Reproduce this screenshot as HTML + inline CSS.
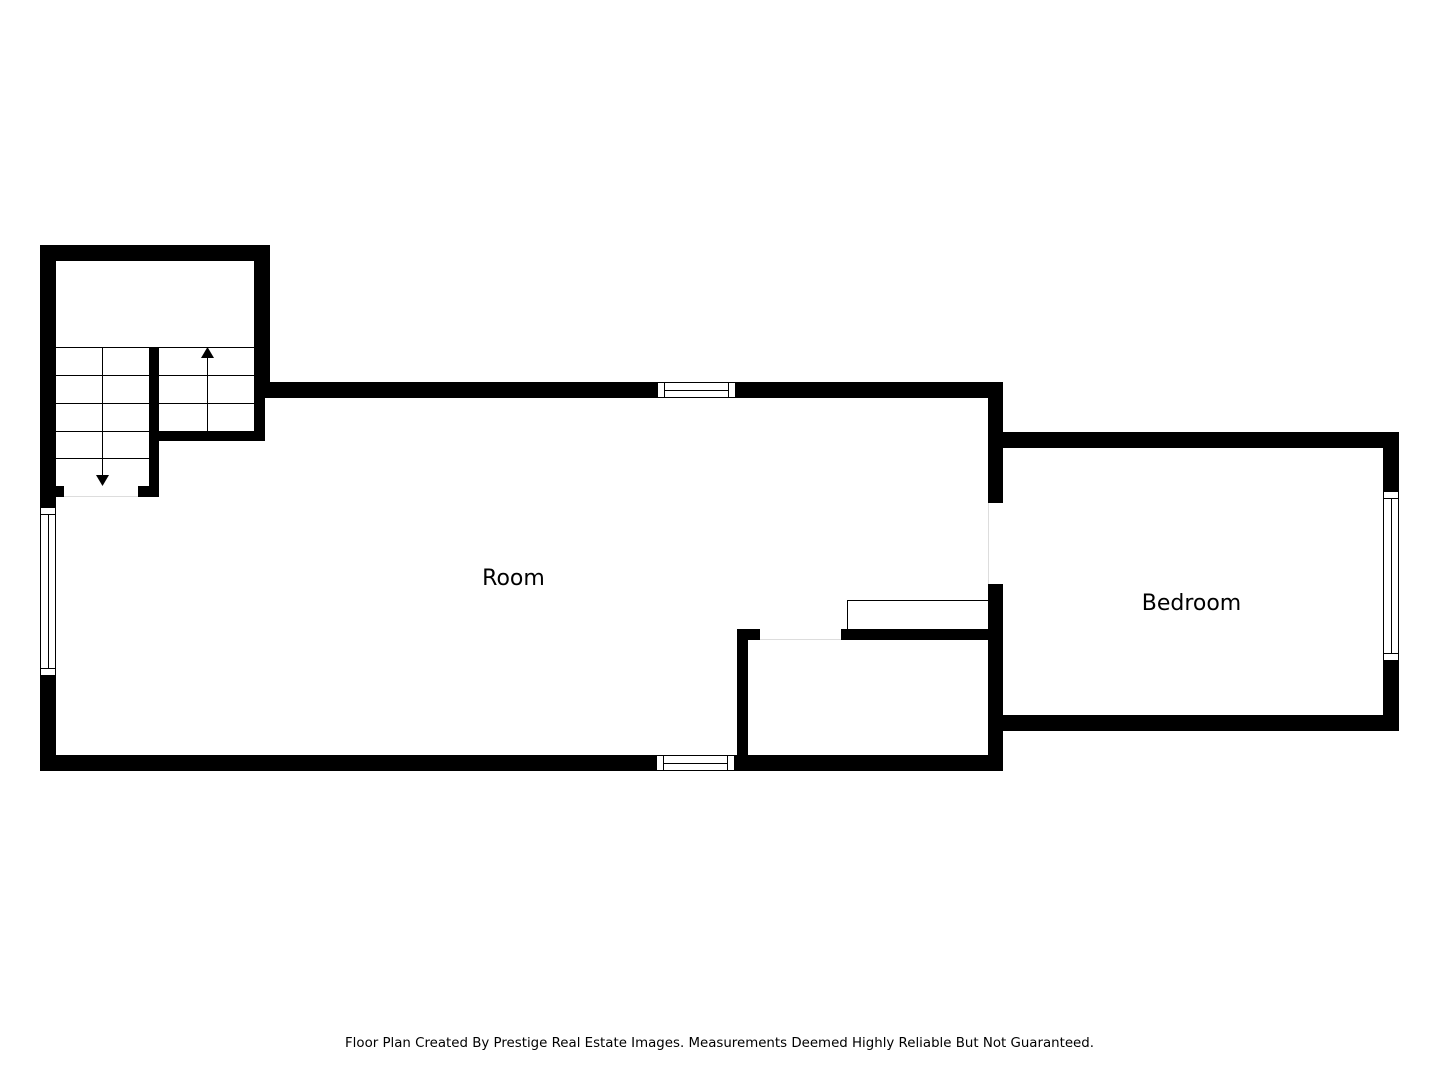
<!DOCTYPE html>
<html><head><meta charset="utf-8"><style>
html,body{margin:0;padding:0;background:#fff;width:1440px;height:1080px;overflow:hidden}
svg{display:block}
</style></head><body>
<svg width="1440" height="1080" viewBox="0 0 1440 1080" xmlns="http://www.w3.org/2000/svg">
<g fill="#000">
  <rect x="40" y="245" width="230" height="16"/>
  <rect x="40" y="245" width="16" height="262"/>
  <rect x="254" y="245" width="16" height="153"/>
  <rect x="254" y="382" width="11" height="59"/>
  <rect x="149" y="431" width="116" height="10"/>
  <rect x="149" y="347" width="10" height="150"/>
  <rect x="56" y="486" width="8" height="11"/>
  <rect x="138" y="486" width="21" height="11"/>
  <rect x="265" y="382" width="738" height="16"/>
  <rect x="40" y="675" width="16" height="96"/>
  <rect x="40" y="755" width="963" height="16"/>
  <rect x="988" y="382" width="15" height="121"/>
  <rect x="988" y="584" width="15" height="187"/>
  <rect x="737" y="629" width="11" height="135"/>
  <rect x="737" y="629" width="23" height="11"/>
  <rect x="841" y="629" width="150" height="11"/>
  <rect x="1003" y="432" width="396" height="16"/>
  <rect x="1003" y="715" width="396" height="16"/>
  <rect x="1383" y="432" width="16" height="59"/>
  <rect x="1383" y="660" width="16" height="71"/>
</g>
<g fill="#fff" stroke="#000" stroke-width="1">
  <rect x="657.5" y="382.5" width="78" height="15"/>
  <line x1="664.5" y1="382.5" x2="664.5" y2="397.5"/><line x1="728.5" y1="382.5" x2="728.5" y2="397.5"/>
  <line x1="664.5" y1="390.5" x2="728.5" y2="390.5"/>
  <rect x="656.5" y="755.5" width="78" height="15"/>
  <line x1="663.5" y1="755.5" x2="663.5" y2="770.5"/><line x1="727.5" y1="755.5" x2="727.5" y2="770.5"/>
  <line x1="663.5" y1="763.5" x2="727.5" y2="763.5"/>
  <rect x="40.5" y="507.5" width="15" height="168"/>
  <line x1="40.5" y1="514.5" x2="55.5" y2="514.5"/><line x1="40.5" y1="668.5" x2="55.5" y2="668.5"/>
  <line x1="48.5" y1="514.5" x2="48.5" y2="668.5"/>
  <rect x="1383.5" y="491.5" width="15" height="169"/>
  <line x1="1383.5" y1="498.5" x2="1398.5" y2="498.5"/><line x1="1383.5" y1="653.5" x2="1398.5" y2="653.5"/>
  <line x1="1391.5" y1="498.5" x2="1391.5" y2="653.5"/>
</g>
<g stroke="#000" stroke-width="1" fill="none">
  <line x1="56" y1="347.5" x2="254" y2="347.5"/>
  <line x1="56" y1="375.5" x2="149" y2="375.5"/>
  <line x1="56" y1="403.5" x2="149" y2="403.5"/>
  <line x1="56" y1="431.5" x2="149" y2="431.5"/>
  <line x1="56" y1="458.5" x2="149" y2="458.5"/>
  <line x1="159" y1="375.5" x2="254" y2="375.5"/>
  <line x1="159" y1="403.5" x2="254" y2="403.5"/>
  <line x1="102.5" y1="347" x2="102.5" y2="478"/>
  <line x1="207.5" y1="431" x2="207.5" y2="355"/>
  <polyline points="847.5,629 847.5,600.5 988,600.5"/>
  <line x1="988.5" y1="503" x2="988.5" y2="584" stroke="#ddd"/>
  <line x1="64" y1="496.5" x2="138" y2="496.5" stroke="#ddd"/>
  <line x1="760" y1="639.5" x2="841" y2="639.5" stroke="#ddd"/>
</g>
<polygon points="96,475 109,475 102.5,486" fill="#000"/>
<polygon points="201,358 214,358 207.5,347" fill="#000"/>
<g font-family="'DejaVu Sans','Liberation Sans',sans-serif" fill="#000">
  <text x="513.5" y="585" font-size="22" text-anchor="middle">Room</text>
  <text x="1191.5" y="610" font-size="22" text-anchor="middle">Bedroom</text>
  <text x="345" y="1047" font-size="13" textLength="749" lengthAdjust="spacingAndGlyphs">Floor Plan Created By Prestige Real Estate Images. Measurements Deemed Highly Reliable But Not Guaranteed.</text>
</g>
</svg>
</body></html>
